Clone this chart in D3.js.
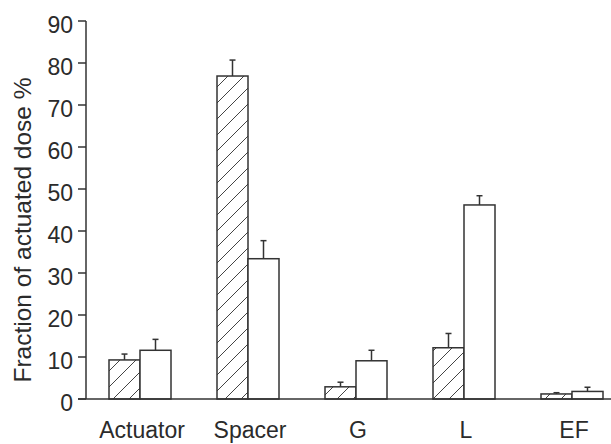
<!DOCTYPE html>
<html>
<head>
<meta charset="utf-8">
<script src="https://cdn.jsdelivr.net/npm/d3@7"></script>
<style>
  body { margin: 0; background: #fff; }
  text { font-family: "Liberation Sans", Arial, sans-serif; fill: #2b2b2b; }
</style>
</head>
<body>
<script>
const categories = ['Actuator', 'Spacer', 'G', 'L', 'EF']
const hatchedValues = [9.3, 76.9, 2.9, 12.2, 1.2]
const hatchedErrors = [1.4, 3.8, 1.1, 3.4, 0.3]
const openValues = [11.6, 33.4, 9.1, 46.2, 1.8]
const openErrors = [2.6, 4.3, 2.5, 2.2, 1.0]
const yTicks = [0, 10, 20, 30, 40, 50, 60, 70, 80, 90]

function main ({ w, h }) {
  const svg = d3.select('body')
    .append('svg')
    .attr('width', w)
    .attr('height', h)

  const defs = svg.append('defs')
  const pat = defs.append('pattern')
    .attr('id', 'hatch')
    .attr('patternUnits', 'userSpaceOnUse')
    .attr('width', 16)
    .attr('height', 16)
  pat.append('rect').attr('width', 16).attr('height', 16).attr('fill', '#fff')
  pat.append('path')
    .attr('d', 'M-2,2 L2,-2 M0,16 L16,0 M14,18 L18,14')
    .attr('stroke', '#444')
    .attr('stroke-width', 1)

  const x = d3.scaleBand().domain(categories).range([86, 626]).padding(0)
  const y = d3.scaleLinear().domain([0, 90]).range([399, 21])
  const barW = 31

  const center = d => x(d) + x.bandwidth() / 2

  // y axis
  svg.append('line')
    .attr('x1', 86).attr('x2', 86)
    .attr('y1', y(90)).attr('y2', y(0))
    .attr('stroke', '#333').attr('stroke-width', 1.5)

  const ticks = svg.append('g')
  ticks.selectAll('line')
    .data(yTicks)
    .join('line')
    .attr('x1', 78).attr('x2', 86)
    .attr('y1', d => y(d)).attr('y2', d => y(d))
    .attr('stroke', '#333').attr('stroke-width', 1.5)
  ticks.selectAll('text')
    .data(yTicks)
    .join('text')
    .attr('x', 73)
    .attr('y', d => y(d) + 12)
    .attr('text-anchor', 'end')
    .attr('font-size', 23)
    .text(d => d)

  svg.append('text')
    .attr('transform', 'translate(31,230) rotate(-90)')
    .attr('text-anchor', 'middle')
    .attr('font-size', 24.5)
    .text('Fraction of actuated dose %')

  const series = [
    { values: hatchedValues, errors: hatchedErrors, fill: 'url(#hatch)', off: -barW },
    { values: openValues, errors: openErrors, fill: '#fff', off: 0 }
  ]

  series.forEach(s => {
    const g = svg.append('g')
    const rows = categories.map((c, i) => ({ c, v: s.values[i], e: s.errors[i] }))
    g.selectAll('line.err')
      .data(rows)
      .join('line')
      .attr('class', 'err')
      .attr('x1', d => center(d.c) + s.off + barW / 2)
      .attr('x2', d => center(d.c) + s.off + barW / 2)
      .attr('y1', d => y(d.v))
      .attr('y2', d => y(d.v + d.e))
      .attr('stroke', '#333').attr('stroke-width', 1.5)
    g.selectAll('line.cap')
      .data(rows)
      .join('line')
      .attr('class', 'cap')
      .attr('x1', d => center(d.c) + s.off + barW / 2 - 3)
      .attr('x2', d => center(d.c) + s.off + barW / 2 + 3)
      .attr('y1', d => y(d.v + d.e))
      .attr('y2', d => y(d.v + d.e))
      .attr('stroke', '#333').attr('stroke-width', 1.5)
    g.selectAll('rect')
      .data(rows)
      .join('rect')
      .attr('x', d => center(d.c) + s.off)
      .attr('y', d => y(d.v))
      .attr('width', barW)
      .attr('height', d => y(0) - y(d.v))
      .attr('fill', s.fill)
      .attr('stroke', '#333').attr('stroke-width', 1.5)
  })

  // x axis baseline
  svg.append('line')
    .attr('x1', 78).attr('x2', w)
    .attr('y1', y(0)).attr('y2', y(0))
    .attr('stroke', '#333').attr('stroke-width', 1.5)

  svg.append('g')
    .selectAll('text')
    .data(categories)
    .join('text')
    .attr('x', d => center(d) + 2)
    .attr('y', 438)
    .attr('text-anchor', 'middle')
    .attr('font-size', 23)
    .text(d => d)
}

main({ w: 611, h: 444 })
</script>
</body>
</html>
